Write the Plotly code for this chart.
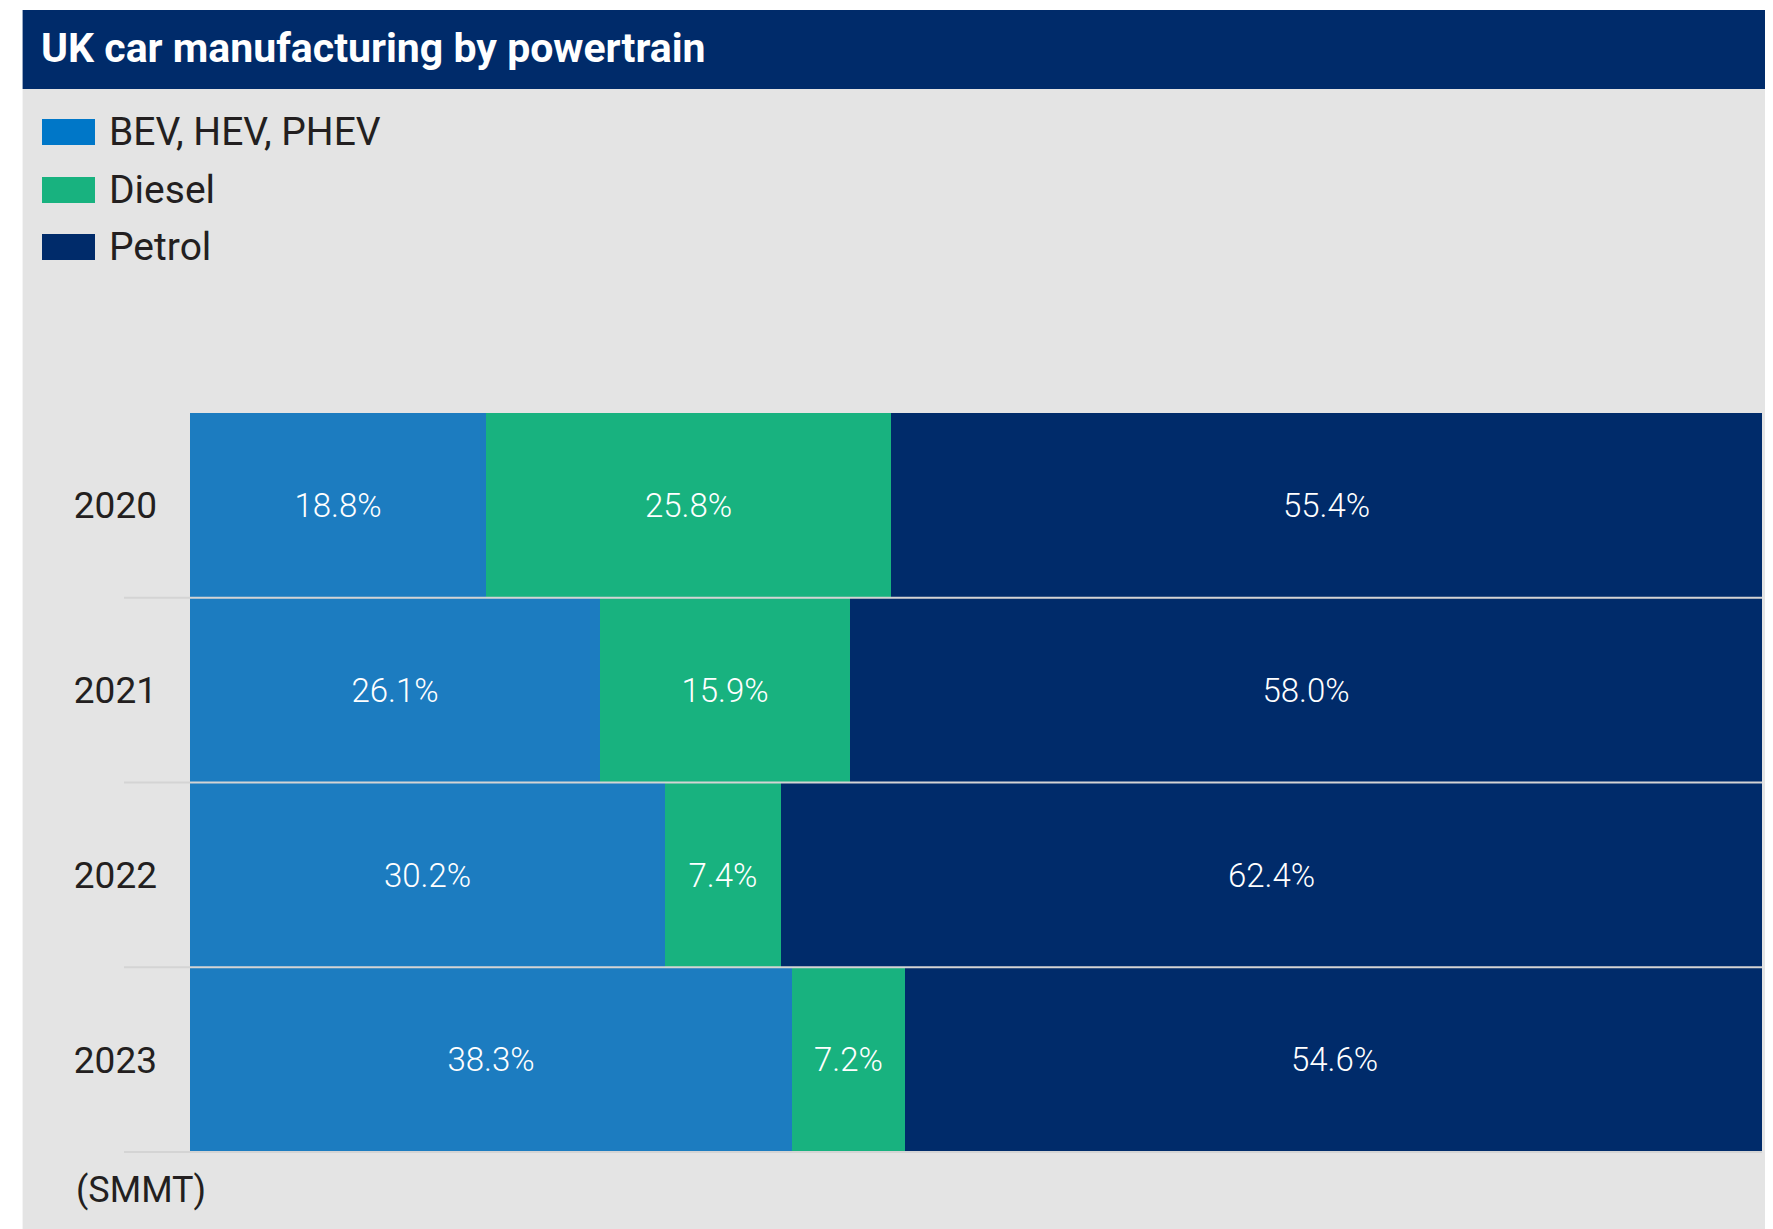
import plotly.graph_objects as go

# ---- data ----
years = ["2020", "2021", "2022", "2023"]
series_names = ["BEV, HEV, PHEV", "Diesel", "Petrol"]
bev = [18.8, 26.1, 30.2, 38.3]
diesel = [25.8, 15.9, 7.4, 7.2]
petrol = [55.4, 58.0, 62.4, 54.6]
title_text = "UK car manufacturing by powertrain"
source_text = "(SMMT)"

bar_colors = ["#1C7CC0", "#18B27F", "#002B6A"]
legend_colors = ["#0077C8", "#18B27F", "#002B6A"]

# page is offset by the browser's 8px body margin
OFF = 8
PAGE_W, PAGE_H = 1773, 1229
W, H = PAGE_W, PAGE_H
PLOT_L, PLOT_R, PLOT_T, PLOT_B = 190, 1762, 413, 1153   # page pixels
ML = PLOT_L - OFF
MR = W - (PLOT_R - OFF)
MT = PLOT_T - OFF
MB = H - (PLOT_B - OFF)
PW = W - ML - MR
PH = H - MT - MB


def px(x):
    # x given in page pixels
    return (x - PLOT_L) / PW


def py(y):
    # y given in page pixels
    return (PLOT_B - y) / PH


fig = go.Figure()
for name, vals, col in zip(series_names, [bev, diesel, petrol], bar_colors):
    fig.add_trace(go.Bar(
        y=years, x=vals, name=name, orientation="h",
        marker=dict(color=col, line=dict(width=0)),
        text=[f"{v:.1f}%" for v in vals],
        textposition="inside", insidetextanchor="middle",
        textfont=dict(family="Roboto", size=33, color="white", weight=300),
        constraintext="none", textangle=0,
        showlegend=False,
    ))

shapes = []
shapes.append(dict(type="rect", xref="paper", yref="paper", layer="below",
                   x0=px(22.6), x1=px(PAGE_W + 40), y0=py(89), y1=py(PAGE_H + 40),
                   fillcolor="#E4E4E4", line=dict(width=0)))
shapes.append(dict(type="rect", xref="paper", yref="paper", layer="below",
                   x0=px(22.6), x1=px(PAGE_W + 40), y0=py(10), y1=py(89),
                   fillcolor="#002B6A", line=dict(width=0)))

# separators between rows
for i in range(len(years)):
    shapes.append(dict(type="line", xref="paper", yref="y", layer="above",
                       x0=px(124), x1=1.0, y0=i + 0.5, y1=i + 0.5,
                       line=dict(color="#D4D4D4", width=2)))

annotations = [
    dict(text=f"<b>{title_text}</b>", xref="paper", yref="paper",
         x=px(39), y=py(48), xanchor="left", yanchor="middle", showarrow=False,
         font=dict(family="Roboto", size=41, color="white")),
    dict(text=source_text, xref="paper", yref="paper",
         x=px(74), y=py(1190), xanchor="left", yanchor="middle", showarrow=False,
         font=dict(family="Roboto", size=36, color="#231F20")),
]

# legend
legend_y = [132, 190, 247]
for name, col, ly in zip(series_names, legend_colors, legend_y):
    shapes.append(dict(type="rect", xref="paper", yref="paper", layer="above",
                       x0=px(42), x1=px(95), y0=py(ly - 13), y1=py(ly + 13),
                       fillcolor=col, line=dict(width=0)))
    annotations.append(dict(text=name, xref="paper", yref="paper",
                            x=px(107), y=py(ly), xanchor="left", yanchor="middle",
                            showarrow=False,
                            font=dict(family="Roboto", size=39, color="#231F20")))

fig.update_layout(
    width=W, height=H,
    margin=dict(l=ML, r=MR, t=MT, b=MB, pad=0),
    barmode="stack", bargap=0,
    paper_bgcolor="white", plot_bgcolor="#E4E4E4",
    showlegend=False,
    shapes=shapes, annotations=annotations,
    xaxis=dict(range=[0, 100], visible=False, fixedrange=True),
    yaxis=dict(autorange="reversed", showgrid=False, zeroline=False, showline=False,
               ticks="", ticklabelstandoff=32,
               tickfont=dict(family="Roboto", size=37, color="#231F20")),
    font=dict(family="Roboto"),
)

fig.write_html("out.html")
